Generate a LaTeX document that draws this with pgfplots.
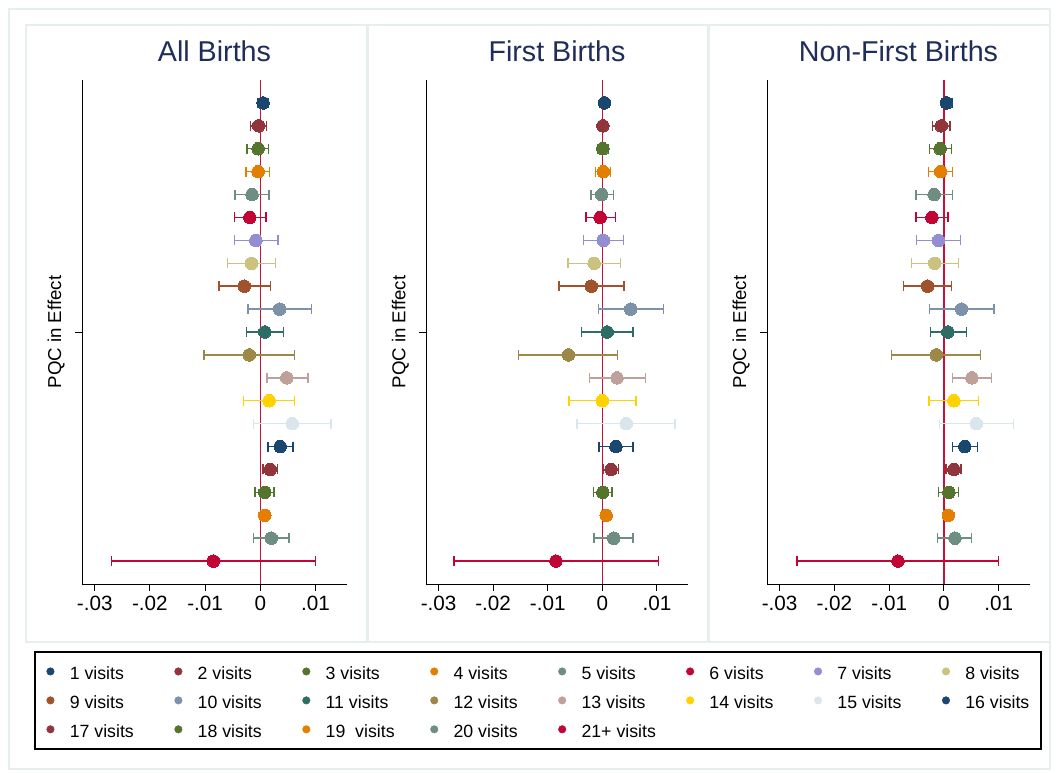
\documentclass[border=0pt]{standalone}
\usepackage{pgfplots}
\pgfplotsset{compat=1.18}
\usepackage{fontspec}
\setmainfont{Liberation Sans}
\definecolor{c1}{RGB}{26,71,111}
\definecolor{c2}{RGB}{144,53,59}
\definecolor{c3}{RGB}{85,117,47}
\definecolor{c4}{RGB}{227,126,0}
\definecolor{c5}{RGB}{110,142,132}
\definecolor{c6}{RGB}{193,5,52}
\definecolor{c7}{RGB}{147,141,210}
\definecolor{c8}{RGB}{202,194,126}
\definecolor{c9}{RGB}{160,82,45}
\definecolor{c10}{RGB}{123,146,168}
\definecolor{c11}{RGB}{45,109,102}
\definecolor{c12}{RGB}{156,136,71}
\definecolor{c13}{RGB}{191,161,156}
\definecolor{c14}{RGB}{255,210,0}
\definecolor{c15}{RGB}{217,230,235}
\colorlet{c16}{c1}
\colorlet{c17}{c2}
\colorlet{c18}{c3}
\colorlet{c19}{c4}
\colorlet{c20}{c5}
\colorlet{c21}{c6}
\definecolor{frm}{RGB}{230,238,240}
\definecolor{zline}{RGB}{200,16,56}
\definecolor{ttl}{RGB}{30,45,90}

% #1 row/color index, #2 estimate, #3 plus error, #4 minus error
\newcommand\ciplot[4]{%
\addplot[c#1, only marks, mark=*, mark size=4.7pt,
  mark options={fill=c#1, draw=c#1, line width=0pt},
  legend image code/.code={\fill[c#1] (0pt,1.5pt) circle (2.8pt);},
  error bars/.cd, x dir=both, x explicit,
  error bar style={c#1, line width=1.05pt},
  error mark options={c#1, rotate=90, mark size=3.75pt, line width=1.05pt}]
  coordinates {(#2,#1) += (#3,0) -= (#4,0)};}
\newcommand\lgd[1]{\makebox[52pt][l]{#1}}

\pgfplotsset{
  myax/.style={
    scale only axis, height=378pt,
    xmin=-0.0323, xmax=0.0157, ymin=0, ymax=22, y dir=reverse,
    axis x line*=bottom, axis y line*=left,
    axis line style={-, black, line width=0.75pt},
    xtick={-0.03,-0.02,-0.01,0,0.01},
    xticklabels={-.03,-.02,-.01,0,.01},
    scaled x ticks=false,
    ytick={11}, yticklabels={},
    tick align=outside, major tick length=5.25pt,
    tick style={black, line width=0.75pt},
    ticklabel style={font=\fontsize{15.5}{17}\selectfont},
    ylabel={PQC in Effect},
    every axis y label/.style={at={(axis description cs:-0.098,0.5)}, rotate=90, anchor=center, font=\fontsize{14}{16}\selectfont},
    title style={at={(axis description cs:0.5,1.0417)}, anchor=center, font=\fontsize{21.5}{24}\selectfont, text=ttl},
    clip=false,
  }
}

\begin{document}
\begin{tikzpicture}
\path[use as bounding box] (0,0) rectangle (792pt,-579.75pt);
\draw[frm, line width=0.9pt] (6.75pt,-6.75pt) rectangle (787.5pt,-576.75pt);
\draw[frm, line width=0.9pt] (19.5pt,-18.75pt) rectangle (275.25pt,-481.5pt);
\draw[frm, line width=0.9pt] (276pt,-18.75pt) rectangle (531pt,-481.5pt);
\draw[frm, line width=0.9pt] (531.75pt,-18.75pt) rectangle (787.5pt,-481.5pt);
% legend frame
\draw[black, line width=0.8pt] (26.25pt,-489pt) rectangle (780.75pt,-561.75pt);

% ---------------- All Births ----------------
\begin{axis}[myax, at={(61.5pt,-438pt)}, anchor=south west, width=198.75pt,
  title={All Births},
  legend columns=8,
  legend style={at={(-0.1774,-0.1409)}, anchor=north west, draw=none, fill=none,
    inner xsep=8.4pt, inner ysep=8.25pt, font=\fontsize{13.3}{14}\selectfont,
    nodes={inner sep=0pt, text height=10pt, text depth=0.75pt}, row sep=10.95pt,
    /tikz/every odd column/.append style={column sep=11.5pt},
    /tikz/every even column/.append style={column sep=26.45pt}},
  legend entries={\lgd{1 visits},\lgd{2 visits},\lgd{3 visits},\lgd{4 visits},\lgd{5 visits},\lgd{6 visits},\lgd{7 visits},\lgd{8 visits},\lgd{9 visits},\lgd{10 visits},\lgd{11 visits},\lgd{12 visits},\lgd{13 visits},\lgd{14 visits},\lgd{15 visits},\lgd{16 visits},\lgd{17 visits},\lgd{18 visits},\lgd{19\ \ visits},\lgd{20 visits},\lgd{21+ visits}}]
\addplot[zline, line width=1pt, forget plot] coordinates {(0,0) (0,22)};
\ciplot{1}{0.0005}{0.00095}{0.001}
\ciplot{2}{-0.0003}{0.00145}{0.0015}
\ciplot{3}{-0.0004}{0.00185}{0.002}
\ciplot{4}{-0.0004}{0.0021}{0.0022}
\ciplot{5}{-0.0015}{0.0031}{0.0031}
\ciplot{6}{-0.0019}{0.0029}{0.0028}
\ciplot{7}{-0.0008}{0.004}{0.0039}
\ciplot{8}{-0.0016}{0.0043}{0.0043}
\ciplot{9}{-0.0029}{0.0047}{0.0046}
\ciplot{10}{0.0035}{0.0058}{0.0057}
\ciplot{11}{0.0008}{0.0034}{0.0033}
\ciplot{12}{-0.002}{0.0082}{0.0082}
\ciplot{13}{0.0048}{0.0038}{0.0036}
\ciplot{14}{0.0016}{0.0046}{0.0046}
\ciplot{15}{0.0058}{0.007}{0.007}
\ciplot{16}{0.0036}{0.0023}{0.0022}
\ciplot{17}{0.0018}{0.0013}{0.0013}
\ciplot{18}{0.0008}{0.0017}{0.0018}
\ciplot{19}{0.0008}{0.0007}{0.0006}
\ciplot{20}{0.002}{0.0032}{0.0032}
\ciplot{21}{-0.0085}{0.0185}{0.0185}
\end{axis}

% ---------------- First Births ----------------
\begin{axis}[myax, at={(319.5pt,-438pt)}, anchor=south west, width=196.5pt,
  title={First Births}]
\addplot[zline, line width=1pt, forget plot] coordinates {(0,0) (0,22)};
\ciplot{1}{0.0004}{0.0004}{0.0004}
\ciplot{2}{0.0001}{0.0005}{0.0005}
\ciplot{3}{0.0001}{0.001}{0.0009}
\ciplot{4}{0.0002}{0.0013}{0.0014}
\ciplot{5}{-0.0001}{0.0021}{0.002}
\ciplot{6}{-0.0004}{0.0028}{0.0026}
\ciplot{7}{0.0002}{0.0037}{0.0036}
\ciplot{8}{-0.0015}{0.0048}{0.0048}
\ciplot{9}{-0.002}{0.006}{0.0059}
\ciplot{10}{0.0052}{0.006}{0.0059}
\ciplot{11}{0.0009}{0.0047}{0.0047}
\ciplot{12}{-0.0062}{0.009}{0.0091}
\ciplot{13}{0.0027}{0.0052}{0.005}
\ciplot{14}{0.0}{0.0062}{0.0061}
\ciplot{15}{0.0044}{0.0089}{0.009}
\ciplot{16}{0.0025}{0.0031}{0.0031}
\ciplot{17}{0.0016}{0.0014}{0.0014}
\ciplot{18}{0.0001}{0.0017}{0.0017}
\ciplot{19}{0.0007}{0.0006}{0.0006}
\ciplot{20}{0.0021}{0.0035}{0.0036}
\ciplot{21}{-0.0085}{0.0188}{0.0187}
\end{axis}

% ---------------- Non-First Births ----------------
\begin{axis}[myax, at={(575.25pt,-438pt)}, anchor=south west, width=197.25pt,
  title={Non-First Births}]
\addplot[zline, line width=1pt, forget plot] coordinates {(0,0) (0,22)};
\ciplot{1}{0.0005}{0.001}{0.001}
\ciplot{2}{-0.0005}{0.0016}{0.0016}
\ciplot{3}{-0.0007}{0.0021}{0.0019}
\ciplot{4}{-0.0006}{0.0022}{0.0022}
\ciplot{5}{-0.0018}{0.0033}{0.0033}
\ciplot{6}{-0.0022}{0.0029}{0.0029}
\ciplot{7}{-0.001}{0.004}{0.004}
\ciplot{8}{-0.0017}{0.0043}{0.0042}
\ciplot{9}{-0.003}{0.0044}{0.0044}
\ciplot{10}{0.0032}{0.0059}{0.0058}
\ciplot{11}{0.0007}{0.0034}{0.0032}
\ciplot{12}{-0.0014}{0.0081}{0.0082}
\ciplot{13}{0.0051}{0.0036}{0.0036}
\ciplot{14}{0.0018}{0.0045}{0.0045}
\ciplot{15}{0.0059}{0.0068}{0.0067}
\ciplot{16}{0.0038}{0.0023}{0.0023}
\ciplot{17}{0.0018}{0.0013}{0.0014}
\ciplot{18}{0.0009}{0.0018}{0.0019}
\ciplot{19}{0.0008}{0.0008}{0.0008}
\ciplot{20}{0.002}{0.003}{0.0032}
\ciplot{21}{-0.0084}{0.0184}{0.0184}
\end{axis}
\end{tikzpicture}
\end{document}
